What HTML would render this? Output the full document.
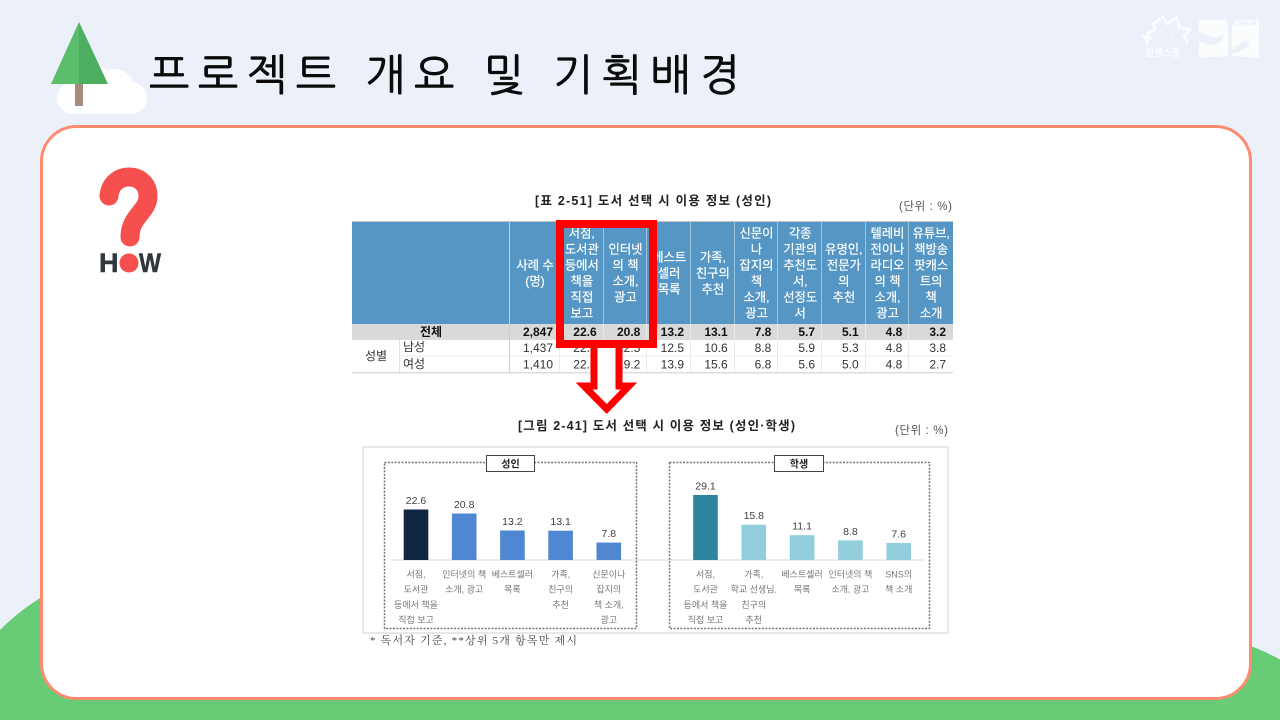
<!DOCTYPE html>
<html lang="ko">
<head>
<meta charset="utf-8">
<title>프로젝트 개요 및 기획배경</title>
<style>
html,body{margin:0;padding:0;width:1280px;height:720px;overflow:hidden;background:#ebf0f9}
svg{display:block;overflow:hidden}
text{font-family:"Liberation Sans","Noto Sans CJK KR",sans-serif}
</style>
</head>
<body>
<svg id="slide" xmlns="http://www.w3.org/2000/svg" width="1280" height="720" viewBox="0 0 1280 720">
  <rect x="0" y="0" width="1280" height="720" fill="#ebf0f9"/>
  <g fill="#67cc75">
    <path d="M0 630 A226 226 0 0 1 375 720 L0 720Z"/>
    <path d="M967 720 A251 251 0 0 1 1280 659.5 L1280 720Z"/>
    <rect x="0" y="680" width="1280" height="40"/>
  </g>

  <g>
    <g fill="#ffffff">
      <rect x="57" y="82" width="90" height="32" rx="16"/>
      <circle cx="115" cy="88" r="19"/>
      <circle cx="92" cy="84" r="20"/>
    </g>
    <rect x="75" y="84" width="8" height="22" fill="#a58c7a"/>
    <polygon points="79,22 51,84 79,84" fill="#5cbd6c"/>
    <polygon points="79,22 108,84 79,84" fill="#4cae5e"/>
  </g>

  <text x="149" y="90" font-size="43" textLength="591" lengthAdjust="spacing" fill="#0a0a0a" stroke="#0a0a0a" stroke-width="0.7" style="font-family:'NanumGothic','Noto Sans CJK KR',sans-serif">프로젝트 개요 및 기획배경</text>

  <g fill="#fbfcfe">
    <polyline points="1147,45 1148,33 1155,30 1153,24 1163,17 1167,24 1177,17 1179,27 1190,30 1184,36 1188,43" fill="none" stroke="#fbfcfe" stroke-width="2.5"/>
    <polygon points="1140,36 1146,35 1150,29 1150,36 1154,40 1148,39 1146,44 1145,39"/>
    <circle cx="1163" cy="40" r="1.2"/>
    <circle cx="1172" cy="37" r="1.2"/>
    <text x="1163" y="56" font-size="9.5" font-weight="bold" text-anchor="middle" fill="#fbfcfe">참쌤스쿨</text>
    <polygon points="1199,20 1226,20 1228,26 1228,56 1199,58"/>
    <polygon points="1232,26 1236,20 1259,20 1259,58 1232,56"/>
    <path d="M1199 32 L1212 37 C1216 38 1220 36 1224 33 L1222 41 C1216 46 1208 46 1199 41Z" fill="#ebf0f9"/>
    <path d="M1232 50 L1240 44 C1243 41 1247 41 1250 42 L1246 48 L1238 52 L1232 54Z" fill="#ebf0f9"/>
    <text x="1237" y="26" font-size="5.5" fill="#dfe8f5">다독다독</text>
  </g>

  <rect x="41.5" y="126.5" width="1209" height="572" rx="35" fill="#ffffff" stroke="#ff8a70" stroke-width="3"/>

  <g>
    <path d="M109 196 C110 183 120 177 129 177 C140 177 148 185 148 196 C148 212 130 216 130 237" fill="none" stroke="#f5504e" stroke-width="19" stroke-linecap="round"/>
    <text x="99" y="272" font-size="27" font-weight="bold" fill="#30383e" stroke="#30383e" stroke-width="0.5">H</text>
    <circle cx="129" cy="263" r="9.5" fill="#f5504e"/>
    <text x="139" y="272" font-size="27" font-weight="bold" fill="#30383e" stroke="#30383e" stroke-width="0.5" textLength="22" lengthAdjust="spacingAndGlyphs">W</text>
  </g>

  <text x="535" y="205" font-size="12.5" font-weight="bold" textLength="236" lengthAdjust="spacing" fill="#222">[표 2-51] 도서 선택 시 이용 정보 (성인)</text>
  <text x="899" y="210" font-size="11.5" textLength="53" lengthAdjust="spacing" fill="#555">(단위 : %)</text>

  <g id="data-table"></g>

  <path d="M594 344 L594 386 L584 386 L606.7 409 L629 386 L619 386 L619 344" fill="#ffffff" stroke="#ff0000" stroke-width="7"/>
  <rect x="560" y="224" width="93" height="120" fill="none" stroke="#ff0000" stroke-width="8"/>

  <text x="518" y="430" font-size="12.5" font-weight="bold" textLength="277" lengthAdjust="spacing" fill="#222">[그림 2-41] 도서 선택 시 이용 정보 (성인·학생)</text>
  <text x="895" y="434" font-size="11.5" textLength="53" lengthAdjust="spacing" fill="#555">(단위 : %)</text>

  <rect x="363" y="447" width="585" height="186" fill="#ffffff" stroke="#e2e2e2" stroke-width="1.6"/>
  <line x1="391" y1="560" x2="923" y2="560" stroke="#d9d9d9" stroke-width="1"/>
  <rect x="384.5" y="462.5" width="252" height="166" fill="none" stroke="#777" stroke-width="1.5" stroke-dasharray="2 1.4"/>
  <rect x="669.5" y="462.5" width="260" height="166" fill="none" stroke="#777" stroke-width="1.5" stroke-dasharray="2 1.4"/>
  <rect x="486.5" y="455.5" width="48" height="16" fill="#ffffff" stroke="#444" stroke-width="1"/>
  <text x="510.5" y="467.5" font-size="10" font-weight="bold" text-anchor="middle" fill="#222">성인</text>
  <rect x="774.5" y="455.5" width="49" height="16" fill="#ffffff" stroke="#444" stroke-width="1"/>
  <text x="799" y="467.5" font-size="10" font-weight="bold" text-anchor="middle" fill="#222">학생</text>

  <g id="chart-marks"></g>

  <text x="370" y="644" font-size="11" textLength="207" lengthAdjust="spacing" fill="#444" style="font-family:'Liberation Serif','Noto Serif CJK SC','Noto Sans CJK KR',serif">* 독서자 기준, **상위 5개 항목만 제시</text>
</svg>

<script>
// ---- bar chart data ----
const adultCategories = ['서점,|도서관|등에서 책을|직접 보고', '인터넷의 책|소개, 광고', '베스트셀러|목록', '가족,|친구의|추천', '신문이나|잡지의|책 소개,|광고'];
const adultValues = [22.6, 20.8, 13.2, 13.1, 7.8];
const studentCategories = ['서점,|도서관|등에서 책을|직접 보고', '가족,|학교 선생님,|친구의|추천', '베스트셀러|목록', '인터넷의 책|소개, 광고', 'SNS의|책 소개'];
const studentValues = [29.1, 15.8, 11.1, 8.8, 7.6];

// ---- table data ----
const tableHeaders = ['사례 수|(명)', '서점,|도서관|등에서|책을|직접|보고', '인터넷|의 책|소개,|광고', '베스트|셀러|목록', '가족,|친구의|추천', '신문이|나|잡지의|책|소개,|광고', '각종|기관의|추천도|서,|선정도|서', '유명인,|전문가|의|추천', '텔레비|전이나|라디오|의 책|소개,|광고', '유튜브,|책방송|팟캐스|트의|책|소개'];
const totalRow = ['2,847', '22.6', '20.8', '13.2', '13.1', '7.8', '5.7', '5.1', '4.8', '3.2'];
const maleRow = ['1,437', '22.7', '22.5', '12.5', '10.6', '8.8', '5.9', '5.3', '4.8', '3.8'];
const femaleRow = ['1,410', '22.4', '19.2', '13.9', '15.6', '6.8', '5.6', '5.0', '4.8', '2.7'];

const SVG_NS = 'http://www.w3.org/2000/svg';
const BASELINE = 560;
const PX_PER_UNIT = 2.235;
const BAR_WIDTH = 24.6;

function yScale(v) { return BASELINE - v * PX_PER_UNIT; }
function adultX(i) { return 416 + 48.2 * i; }
function studentX(i) { return 705.5 + 48.3 * i; }
function colEdge(i) { return 560 + 43.67 * (i - 1); }

function make(tag, parent, attrs, content) {
  const el = document.createElementNS(SVG_NS, tag);
  Object.keys(attrs).forEach(function (k) { el.setAttribute(k, attrs[k]); });
  if (content !== undefined) el.textContent = content;
  parent.appendChild(el);
  return el;
}

function drawChart(prefix, categories, values, xFn, firstColor, restColor) {
  const root = document.getElementById('chart-marks');
  values.forEach(function (v, i) {
    const cx = xFn(i);
    const top = yScale(v);
    const bar = make('rect', root, { x: cx - BAR_WIDTH / 2, y: top, width: BAR_WIDTH, height: BASELINE - top, fill: i === 0 ? firstColor : restColor });
    
    
    const label = make('text', root, { x: cx, y: top - 5.5, 'font-size': 10.5, 'text-anchor': 'middle', fill: '#404040' }, v.toFixed(1));
    
    
    categories[i].split('|').forEach(function (line, j) {
      const cat = make('text', root, { x: cx, y: 577.5 + j * 15.2, 'font-size': 9, 'text-anchor': 'middle', fill: '#777777' }, line);
      
      
    });
  });
}

function drawTable() {
  const root = document.getElementById('data-table');
  const LEFT = 352, RIGHT = 953, HEAD_TOP = 222, HEAD_BOTTOM = 324, TOTAL_BOTTOM = 340, ROW_MID = 356, BOTTOM = 372;

  const headBg = make('rect', root, { x: LEFT, y: HEAD_TOP, width: RIGHT - LEFT, height: HEAD_BOTTOM - HEAD_TOP, fill: '#5596c4' });
  
  

  const topRule = make('rect', root, { x: LEFT, y: HEAD_TOP - 1, width: RIGHT - LEFT, height: 1, fill: '#c4c4c4' });
  
  

  const totalBg = make('rect', root, { x: LEFT, y: HEAD_BOTTOM, width: RIGHT - LEFT, height: TOTAL_BOTTOM - HEAD_BOTTOM, fill: '#d9d9d9' });
  
  

  const midRule = make('line', root, { x1: 399, x2: RIGHT, y1: ROW_MID, y2: ROW_MID, stroke: '#e0e0e0', 'stroke-dasharray': '1.5 1' });
  
  

  const bottomRule = make('rect', root, { x: LEFT, y: BOTTOM, width: RIGHT - LEFT, height: 1.5, fill: '#dddddd' });
  
  

  const groupRule = make('line', root, { x1: 399.5, x2: 399.5, y1: TOTAL_BOTTOM, y2: BOTTOM, stroke: '#e4e4e4' });
  
  

  for (let i = 1; i < tableHeaders.length; i++) {
    const edge = Math.round(colEdge(i));
    const hl = make('line', root, { x1: edge - 0.5, x2: edge - 0.5, y1: HEAD_TOP, y2: HEAD_BOTTOM, stroke: '#9cc3de', 'stroke-width': 1 });
    
    
    const bl = make('line', root, { x1: edge - 0.5, x2: edge - 0.5, y1: HEAD_BOTTOM, y2: BOTTOM, stroke: '#eaeaea', 'stroke-width': 1 });
    
    
  }
  const firstEdge = make('line', root, { x1: 509.5, x2: 509.5, y1: HEAD_TOP, y2: BOTTOM, stroke: '#b9d3e6' });
  
  

  tableHeaders.forEach(function (h, i) {
    const left = i === 0 ? 510 : colEdge(i);
    const right = colEdge(i + 1);
    const cx = (left + right) / 2;
    const lines = h.split('|');
    lines.forEach(function (line, j) {
      const y = 273 + (j - (lines.length - 1) / 2) * 16 + 4.5;
      const t = make('text', root, { x: cx, y: y, 'font-size': 12.3, 'text-anchor': 'middle', fill: '#ffffff', stroke: '#ffffff', 'stroke-width': 0.2 }, line);
      
      
    });
  });

  function drawRow(name, values, y, bold) {
    values.forEach(function (v, i) {
      const attrs = { x: colEdge(i + 1) - 7, y: y, 'font-size': 12, 'text-anchor': 'end', fill: bold ? '#111111' : '#333333' };
      if (bold) attrs['font-weight'] = 'bold';
      const t = make('text', root, attrs, v);
      
      
    });
  }
  drawRow('total-row-value', totalRow, 336, true);
  drawRow('male-row-value', maleRow, 352, false);
  drawRow('female-row-value', femaleRow, 368.5, false);

  const totalLabel = make('text', root, { x: 431, y: 336, 'font-size': 12, 'font-weight': 'bold', 'text-anchor': 'middle', fill: '#111111' }, '전체');
  
  

  const groupLabel = make('text', root, { x: 376, y: 360, 'font-size': 12, 'text-anchor': 'middle', fill: '#333333' }, '성별');
  
  

  const maleLabel = make('text', root, { x: 403, y: 351, 'font-size': 12, fill: '#333333' }, '남성');
  
  

  const femaleLabel = make('text', root, { x: 403, y: 368, 'font-size': 12, fill: '#333333' }, '여성');
  
  
}

drawTable();
drawChart('adult', adultCategories, adultValues, adultX, '#10253f', '#5087d3');
drawChart('student', studentCategories, studentValues, studentX, '#2e839d', '#92cddc');
</script>
</body>
</html>
